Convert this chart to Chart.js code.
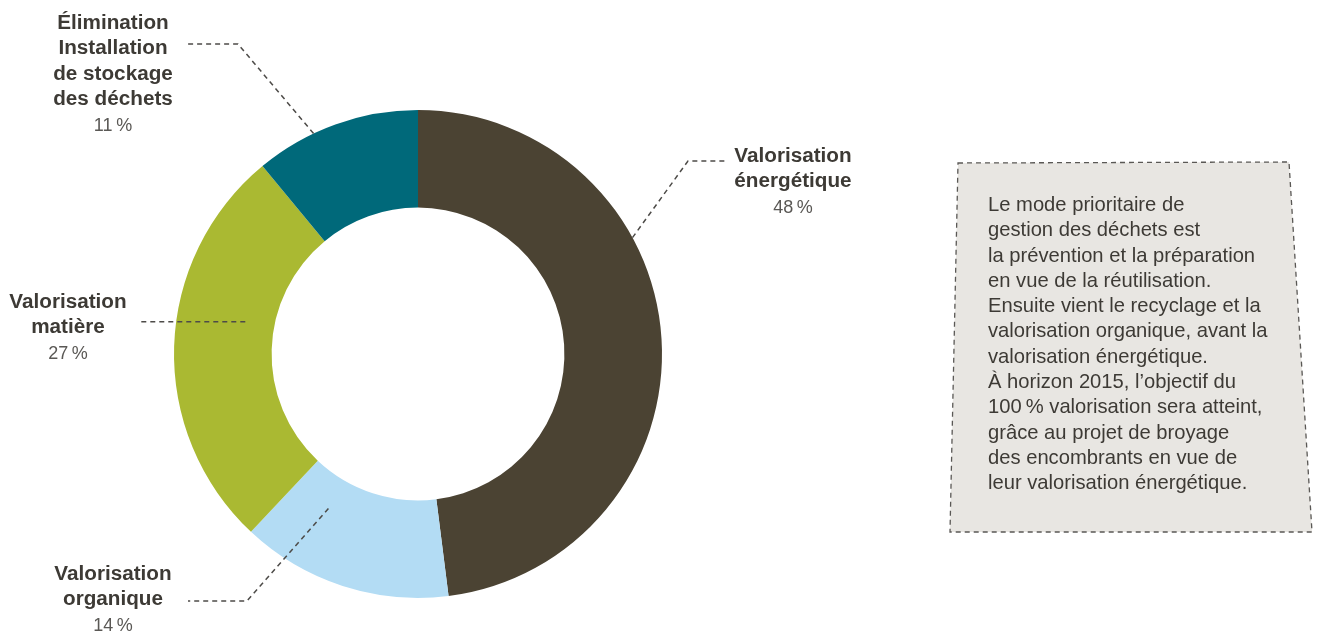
<!DOCTYPE html>
<html>
<head>
<meta charset="utf-8">
<script src="https://cdn.jsdelivr.net/npm/chart.js@4/dist/chart.umd.min.js"></script>
<style>
  html, body { margin: 0; padding: 0; background: #fff; }
  #wrap { position: relative; width: 1319px; height: 634px; overflow: hidden; }
  #chart { position: absolute; left: 0; top: 0; }
  .lbl {
    position: absolute; width: 220px; text-align: center;
    font-family: "Liberation Sans", Arial, sans-serif; font-size: 20.7px;
    line-height: 25.4px; color: #3d3a35;
  }
  .lbl b { font-weight: bold; }
  .lbl .pct { font-weight: normal; font-size: 18px; color: #5a5855; }
  #note {
    position: absolute; left: 988px; top: 192px; width: 310px;
    font-family: "Liberation Sans", Arial, sans-serif; font-size: 20.2px;
    line-height: 25.3px; color: #3d3a35; white-space: nowrap;
  }
</style>
</head>
<body>
<div id="wrap">
  <canvas id="chart" width="1319" height="634"></canvas>
  <div id="labels"></div>
  <div id="note"></div>
</div>
<script>
// Data
// -----------------------------------

// slices clockwise from 12 o'clock
var categories = ['Valorisation énergétique', 'Valorisation organique', 'Valorisation matière', 'Élimination Installation de stockage des déchets'];
var labelLines = [
    ['Valorisation', 'énergétique'],
    ['Valorisation', 'organique'],
    ['Valorisation', 'matière'],
    ['Élimination', 'Installation', 'de stockage', 'des déchets']
];
var shares = [48, 14, 27, 11];
var colors = ['#4b4333', '#b3dcf4', '#aab932', '#00697a'];

var noteLines = [
    'Le mode prioritaire de',
    'gestion des déchets est',
    'la prévention et la préparation',
    'en vue de la réutilisation.',
    'Ensuite vient le recyclage et la',
    'valorisation organique, avant la',
    'valorisation énergétique.',
    'À horizon 2015, l\u2019objectif du',
    '100\u202f% valorisation sera atteint,',
    'grâce au projet de broyage',
    'des encombrants en vue de',
    'leur valorisation énergétique.'
];

// Layout (label boxes and leader lines)
// -----------------------------------
var labelPos = [
    { cx: 793, top: 142 },
    { cx: 113, top: 560 },
    { cx: 68, top: 288 },
    { cx: 113, top: 9 }
];
// t = position along the slice, r = position across the ring (0 inner, 1 outer)
var leaders = [
    { t: 0.356, r: 1.0, elbow: [688, 161], end: [725, 161] },
    { t: 0.74, r: 0.33, elbow: [247, 601], end: [188, 601] },
    { t: 0.59, r: 0.3, elbow: null, end: [140, null] },
    { t: 0.36, r: 1.0, elbow: [238, 44], end: [187, 44] }
];

// HTML labels
// -----------------------------------
var labelsDiv = document.getElementById('labels');
categories.forEach(function(c, i) {
    var d = document.createElement('div');
    d.className = 'lbl';
    d.style.left = (labelPos[i].cx - 110) + 'px';
    d.style.top = labelPos[i].top + 'px';
    d.innerHTML = labelLines[i].map(function(l) { return '<b>' + l + '</b>'; }).join('<br>') +
        '<br><span class="pct">' + shares[i] + '\u202f%</span>';
    labelsDiv.appendChild(d);
});
document.getElementById('note').innerHTML = noteLines.join('<br>');

// Plugins
// -----------------------------------
var noteBox = {
    id: 'noteBox',
    beforeDraw: function(chart) {
        var ctx = chart.ctx;
        ctx.save();
        ctx.beginPath();
        ctx.moveTo(958, 163);
        ctx.lineTo(1289, 162);
        ctx.lineTo(1312, 532);
        ctx.lineTo(950, 532);
        ctx.closePath();
        ctx.fillStyle = '#e8e6e2';
        ctx.fill();
        ctx.setLineDash([5, 4]);
        ctx.lineWidth = 1.3;
        ctx.strokeStyle = '#5a5855';
        ctx.stroke();
        ctx.restore();
    }
};

var leaderLines = {
    id: 'leaderLines',
    afterDatasetsDraw: function(chart) {
        var ctx = chart.ctx;
        var arcs = chart.getDatasetMeta(0).data;
        ctx.save();
        ctx.setLineDash([5, 4]);
        ctx.lineWidth = 1.5;
        ctx.strokeStyle = '#4d4b48';
        leaders.forEach(function(ld, i) {
            var a = arcs[i];
            var ang = a.startAngle + (a.endAngle - a.startAngle) * ld.t;
            var rad = a.innerRadius + (a.outerRadius - a.innerRadius) * ld.r;
            var x0 = a.x + Math.cos(ang) * rad;
            var y0 = a.y + Math.sin(ang) * rad;
            ctx.beginPath();
            ctx.moveTo(x0, y0);
            if (ld.elbow) ctx.lineTo(ld.elbow[0], ld.elbow[1]);
            ctx.lineTo(ld.end[0], ld.end[1] === null ? y0 : ld.end[1]);
            ctx.stroke();
        });
        ctx.restore();
    }
};

// Doughnut chart
// -----------------------------------
var ctx = document.getElementById('chart').getContext('2d');
var chart = new Chart(ctx, {
    type: 'doughnut',
    data: {
        labels: categories,
        datasets: [{
            data: shares,
            backgroundColor: colors,
            borderWidth: 0
        }]
    },
    options: {
        responsive: false,
        animation: false,
        cutout: '60%',
        layout: { padding: { left: 174, right: 657, top: 110, bottom: 36 } },
        plugins: {
            legend: { display: false },
            tooltip: { enabled: false }
        }
    },
    plugins: [noteBox, leaderLines]
});
</script>
</body>
</html>
